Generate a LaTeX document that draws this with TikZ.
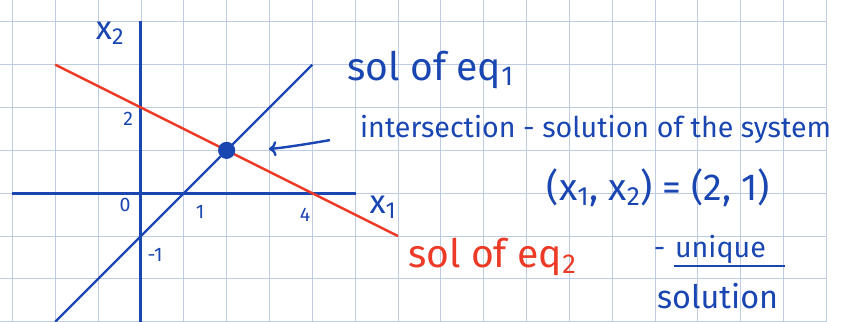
\documentclass[tikz,border=0pt]{standalone}
\usepackage{fontspec}
\setmainfont{Fira Sans}
\usepackage{xcolor}
\usetikzlibrary{arrows.meta, positioning}
\definecolor{inkblue}{RGB}{26,70,178}
\definecolor{inkred}{RGB}{236,58,38}
\definecolor{gridblue}{RGB}{190,204,226}

\begin{document}
\begin{tikzpicture}[x=1cm, y=1cm,
  axis/.style={inkblue, line width=2pt},
  ink/.style={line width=1.6pt},
  note/.style={inkblue, anchor=base west, inner sep=0pt, font=\fontsize{19}{22}\selectfont},
  big/.style={anchor=base west, inner sep=0pt, font=\fontsize{26}{29}\selectfont},
  tick/.style={inkblue, font=\fontsize{13}{15}\selectfont}]
\useasboundingbox (-3.29,-3.0) rectangle (16.34,4.51);
\draw[step=1, gridblue, line width=0.6pt] (-3.29,-3.0) grid (16,4.51);
% axes
\draw[axis] (-3,0) -- (5.02,0);
\draw[axis] (0,-3) -- (0,4.02);
\node[inkblue, font=\fontsize{22}{24}\selectfont] (xtwo) at (-0.72,3.74) {x\textsubscript{2}};
\node[inkblue, font=\fontsize{22}{24}\selectfont] (xone) at (5.65,-0.32) {x\textsubscript{1}};
\node[tick] (zero) at (-0.37,-0.27) {0};
\node[tick] (one) at (1.38,-0.43) {1};
\node[tick] (four) at (3.83,-0.5) {4};
\node[tick] (two) at (-0.3,1.73) {2};
\node[tick] (mone) at (0.33,-1.44) {-1};
% the two lines
\draw[ink, inkblue] (-2,-3) -- (4,3);
\draw[ink, inkred] (-2,3) -- (6,-1);
\node[circle, fill=inkblue, inner sep=0pt, minimum size=0.4cm] (sol) at (2,1) {};
% notes
\node[big, inkblue] (eqone) at (4.81,2.64) {sol of eq\textsubscript{1}};
\node[note] (inter) at (5.11,1.31) {intersection - solution of the system};
\node[note, font=\fontsize{25}{28}\selectfont] (pair) at (9.47,-0.16) {(x\textsubscript{1}, x\textsubscript{2}) = (2, 1)};
\node[big, inkred] (eqtwo) at (6.23,-1.73) {sol of eq\textsubscript{2}};
\node[note] (uniq) at (12.46,-1.49) {unique};
\node[note, anchor=base east] (dash) at (12.25,-1.49) {-};
\node[note, font=\fontsize{21.5}{24}\selectfont] (soln) at (12.04,-2.68) {solution};
\draw[ink, inkblue] (12.45,-1.70) -- (15.04,-1.70);
\coordinate (tail) at (4.41,1.24);
\draw[ink, inkblue, -{To[length=5pt,width=10pt]}, shorten >=0.78cm] (tail) to[bend left=4] (sol);
\end{tikzpicture}
\end{document}
